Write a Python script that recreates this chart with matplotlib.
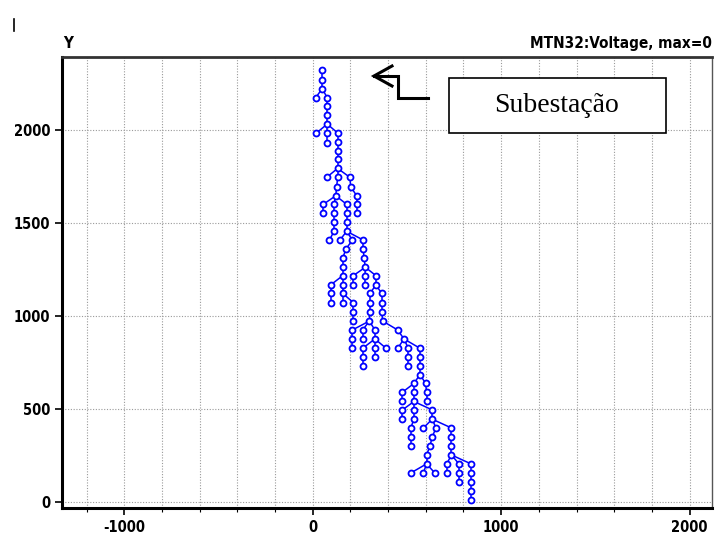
import matplotlib
matplotlib.use("Agg")
import matplotlib.pyplot as plt
from matplotlib.collections import LineCollection
from matplotlib.patches import Rectangle
from matplotlib.lines import Line2D
from matplotlib import font_manager
from matplotlib.font_manager import FontProperties

plt.rcParams["axes.unicode_minus"] = False

# Feeder bus coordinates (X, Y) and the parent bus of each one (-1 = root)
node_x = [50, 50, 50, 15, 77, 77, 77, 77, 17, 77,
          77, 132, 132, 132, 132, 132, 74, 132, 197, 127,
          201, 122, 233, 233, 233, 56, 56, 113, 113, 113,
          113, 88, 180, 180, 180, 180, 144, 210, 268, 175,
          159, 159, 159, 95, 95, 95, 159, 159, 159, 215,
          215, 215, 268, 272, 279, 215, 215, 277, 277, 335,
          335, 304, 304, 304, 300, 210, 210, 210, 265, 265,
          330, 330, 265, 265, 265, 330, 330, 389, 366, 366,
          366, 371, 451, 484, 451, 507, 507, 507, 569, 569,
          569, 569, 537, 599, 476, 476, 537, 537, 604, 604,
          476, 476, 537, 537, 520, 520, 520, 634, 634, 587,
          654, 634, 622, 604, 604, 520, 587, 648, 736, 736,
          736, 736, 711, 711, 776, 776, 776, 840, 840, 840,
          840, 840]
node_y = [2322, 2268, 2222, 2173, 2173, 2127, 2079, 2032, 1982, 1982,
          1932, 1984, 1934, 1889, 1844, 1794, 1746, 1746, 1746, 1696,
          1696, 1647, 1647, 1601, 1553, 1601, 1553, 1601, 1553, 1504,
          1456, 1409, 1601, 1553, 1504, 1456, 1409, 1409, 1409, 1359,
          1311, 1263, 1218, 1168, 1123, 1073, 1168, 1123, 1073, 1073,
          1024, 974, 1359, 1311, 1263, 1218, 1168, 1218, 1168, 1218,
          1168, 1123, 1073, 1024, 974, 926, 878, 828, 926, 878,
          926, 878, 828, 780, 731, 828, 780, 828, 1123, 1073,
          1024, 974, 926, 878, 828, 828, 780, 731, 828, 780,
          731, 687, 639, 639, 592, 542, 592, 542, 592, 542,
          497, 447, 497, 447, 400, 352, 303, 497, 447, 400,
          400, 352, 303, 255, 207, 158, 158, 158, 400, 352,
          303, 255, 207, 158, 207, 158, 108, 207, 158, 108,
          63, 13]
node_parent = [-1, 0, 1, 2, 2, 4, 5, 6, 7, 7,
               9, 7, 11, 12, 13, 14, 15, 15, 15, 17,
               18, 19, 20, 22, 23, 21, 25, 21, 27, 28,
               29, 30, 21, 32, 33, 34, 35, 35, 35, 37,
               39, 40, 41, 42, 43, 44, 42, 46, 47, 47,
               49, 50, 38, 52, 53, 54, 55, 54, 57, 54,
               59, 60, 61, 62, 63, 64, 65, 66, 64, 68,
               64, 70, 71, 72, 73, 71, 75, 71, 60, 78,
               79, 80, 81, 82, 83, 83, 85, 86, 83, 88,
               89, 90, 91, 91, 92, 94, 92, 96, 93, 98,
               97, 100, 97, 102, 103, 104, 105, 97, 107, 108,
               108, 110, 111, 112, 113, 114, 114, 114, 108, 118,
               119, 120, 121, 122, 121, 124, 125, 121, 127, 128,
               129, 130]

x_ticks = [-1000, 0, 1000, 2000]
y_ticks = [0, 500, 1000, 1500, 2000]


def narrow_bold(size):
    """Bold condensed sans if one is installed, else bold Liberation Sans."""
    for f in font_manager.fontManager.ttflist:
        weight = f.weight if isinstance(f.weight, int) else 700 if "bold" in str(f.weight) else 400
        if weight >= 700 and "condensed" in str(f.stretch).lower() or (
                weight >= 700 and "Narrow" in f.name):
            if any(k in f.name for k in ("Liberation", "DejaVu", "Roboto", "Open Sans", "Noto Sans")):
                if "Mono" not in f.name and "Serif" not in f.name:
                    return FontProperties(fname=f.fname, size=size)
    return FontProperties(family="Liberation Sans", weight="bold", size=size)


BLUE = "#0000FF"

fig = plt.figure(figsize=(7.16, 5.39), dpi=100)
ax = fig.add_axes([0.0866, 0.0575, 0.9078, 0.8367])

ax.set_xlim(-1331, 2119)
ax.set_ylim(-30, 2392)

# branches of the feeder
segments = [[(node_x[p], node_y[p]), (node_x[i], node_y[i])]
            for i, p in enumerate(node_parent) if p >= 0]
ax.add_collection(LineCollection(segments, colors=BLUE, linewidths=1.1, zorder=3))
ax.plot(node_x, node_y, linestyle="none", marker="o", markersize=4.3,
        markerfacecolor="white", markeredgecolor=BLUE, markeredgewidth=1.3, zorder=4)

# ticks and grid
ax.set_xticks(x_ticks)
ax.set_xticks(range(-1200, 2101, 200), minor=True)
ax.set_yticks(y_ticks)
ax.tick_params(axis="both", which="major", direction="out", length=5, width=1.2)
ax.tick_params(axis="x", which="minor", direction="out", length=3, width=0.8)
ax.grid(True, axis="x", which="both", linestyle=(0, (1, 1.5)), color="#9a9a9a", linewidth=0.8)
ax.grid(True, axis="y", which="major", linestyle=(0, (1, 1.5)), color="#9a9a9a", linewidth=0.8)
ax.set_axisbelow(True)
tick_font = narrow_bold(10.5)
for lab in ax.get_xticklabels() + ax.get_yticklabels():
    lab.set_fontproperties(tick_font)

for side in ["left", "bottom"]:
    ax.spines[side].set_linewidth(2.2)
ax.spines["top"].set_linewidth(2.0)
ax.spines["top"].set_color("#333333")
ax.spines["right"].set_linewidth(1.0)
ax.spines["right"].set_color("#555555")

# header texts
head_font = narrow_bold(11)
fig.text(0.088, 0.905, "Y", fontproperties=head_font, ha="left", va="bottom")
fig.text(0.994, 0.905, "MTN32:Voltage, max=0", fontproperties=head_font,
         ha="right", va="bottom")
fig.add_artist(Line2D([14 / 716, 14 / 716], [1 - 19 / 539, 1 - 31 / 539],
                      color="black", linewidth=1.2))

# substation callout
box = Rectangle((449 / 716, 1 - 133 / 539), 217 / 716, 55 / 539,
                transform=fig.transFigure, facecolor="white", edgecolor="black",
                linewidth=1.2, zorder=5)
fig.add_artist(box)
fig.text(557 / 716, 1 - 106 / 539, "Subestação", fontsize=20, family="Liberation Serif",
         ha="center", va="center", zorder=6)
arrow_shaft = [(374, 76), (398, 76), (398, 98), (428, 98)]
arrow_head = [(392, 66), (374, 76), (392, 86)]
for pts in (arrow_shaft, arrow_head):
    fig.add_artist(Line2D([p[0] / 716 for p in pts], [1 - p[1] / 539 for p in pts],
                          color="black", linewidth=2.2, solid_joinstyle="miter"))

fig.savefig("out.png", dpi=100)
